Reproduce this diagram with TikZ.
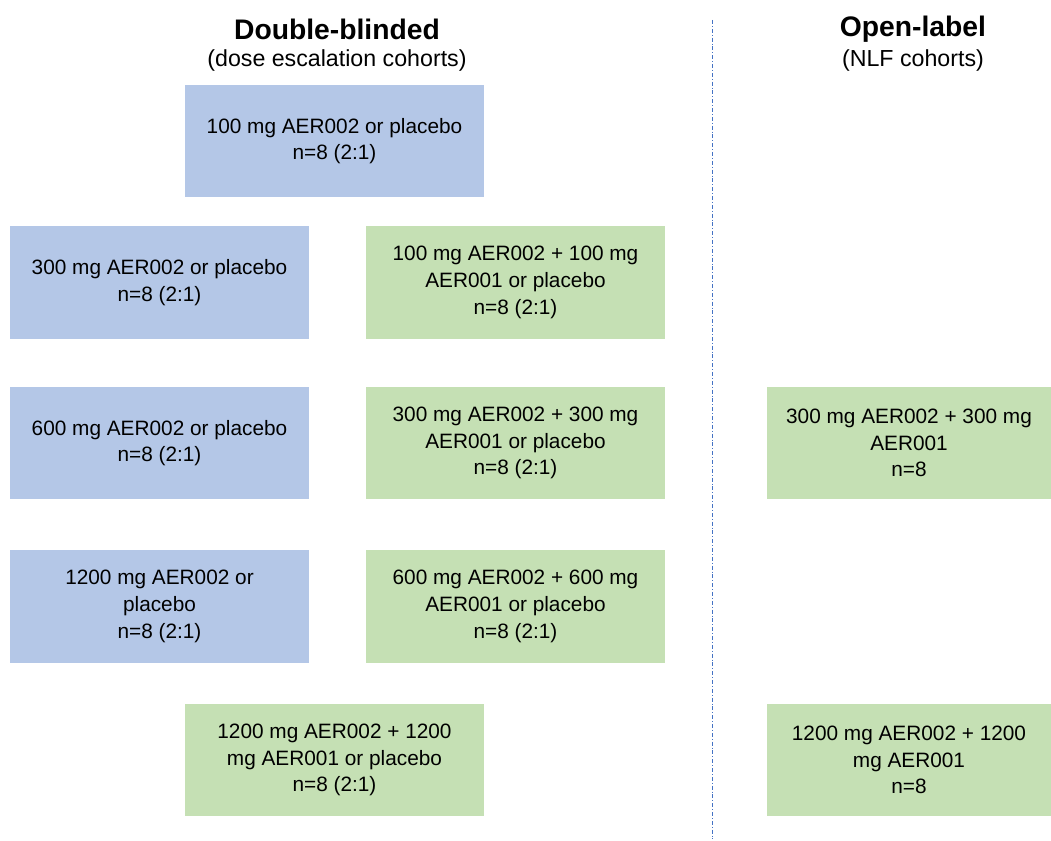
\documentclass[tikz,border=0pt]{standalone}
\usepackage{fontspec}
\setmainfont{Liberation Sans}
\usepackage{xcolor}
\usepackage{tikz}

\definecolor{armblue}{HTML}{B4C7E7}
\definecolor{armgreen}{HTML}{C5E0B4}
\definecolor{divline}{HTML}{4472C4}

\tikzset{
  cohort/.style={rectangle, inner sep=2pt, outer sep=0pt, align=center,
    minimum width=224.25pt, minimum height=84.5pt,
    font=\fontsize{15.6}{20}\selectfont},
  mono/.style={cohort, fill=armblue},
  combo/.style={cohort, fill=armgreen},
  wide/.style={minimum width=213pt},
  heading/.style={font=\fontsize{21.2}{25}\selectfont\bfseries},
  subheading/.style={font=\fontsize{17.4}{21}\selectfont}
}

\begin{document}
\begin{tikzpicture}[x=0.75pt, y=-0.75pt]
    \useasboundingbox (0,0) rectangle (1051,841);
    % column headings
    \node[heading] (dbTitle) at (337,29) {Double-blinded};
    \node[subheading] (dbSub) at (337,61) {(dose escalation cohorts)};
    \node[heading] (olTitle) at (913,29) {Open-label};
    \node[subheading] (olSub) at (913,61) {(NLF cohorts)};
    % divider
    \coordinate (divTop) at (712,20);
    \coordinate (divBot) at (712,839);
    \draw[divline, line width=0.6pt, dash pattern=on 3pt off 1.5pt on 0.6pt off 1.5pt] (divTop) -- (divBot);
    % double-blinded cohorts
    \node[mono] (mono100) at (334.5,141) {100 mg AER002 or placebo\\n=8 (2:1)};
    \node[mono] (mono300) at (159.5,282.5) {300 mg AER002 or placebo\\n=8 (2:1)};
    \node[combo] (combo100) at (515.5,282.5) {100 mg AER002 + 100 mg\\AER001 or placebo\\n=8 (2:1)};
    \node[mono] (mono600) at (159.5,443) {600 mg AER002 or placebo\\n=8 (2:1)};
    \node[combo] (combo300) at (515.5,443) {300 mg AER002 + 300 mg\\AER001 or placebo\\n=8 (2:1)};
    \node[mono] (mono1200) at (159.5,606.5) {1200 mg AER002 or\\placebo\\n=8 (2:1)};
    \node[combo] (combo600) at (515.5,606.5) {600 mg AER002 + 600 mg\\AER001 or placebo\\n=8 (2:1)};
    \node[combo] (combo1200) at (334.5,760) {1200 mg AER002 + 1200\\mg AER001 or placebo\\n=8 (2:1)};
    % open-label cohorts
    \node[combo, wide] (nlf300) at (909,443) {300 mg AER002 + 300 mg\\AER001\\n=8};
    \node[combo, wide] (nlf1200) at (909,760) {1200 mg AER002 + 1200\\mg AER001\\n=8};
\end{tikzpicture}
\end{document}
